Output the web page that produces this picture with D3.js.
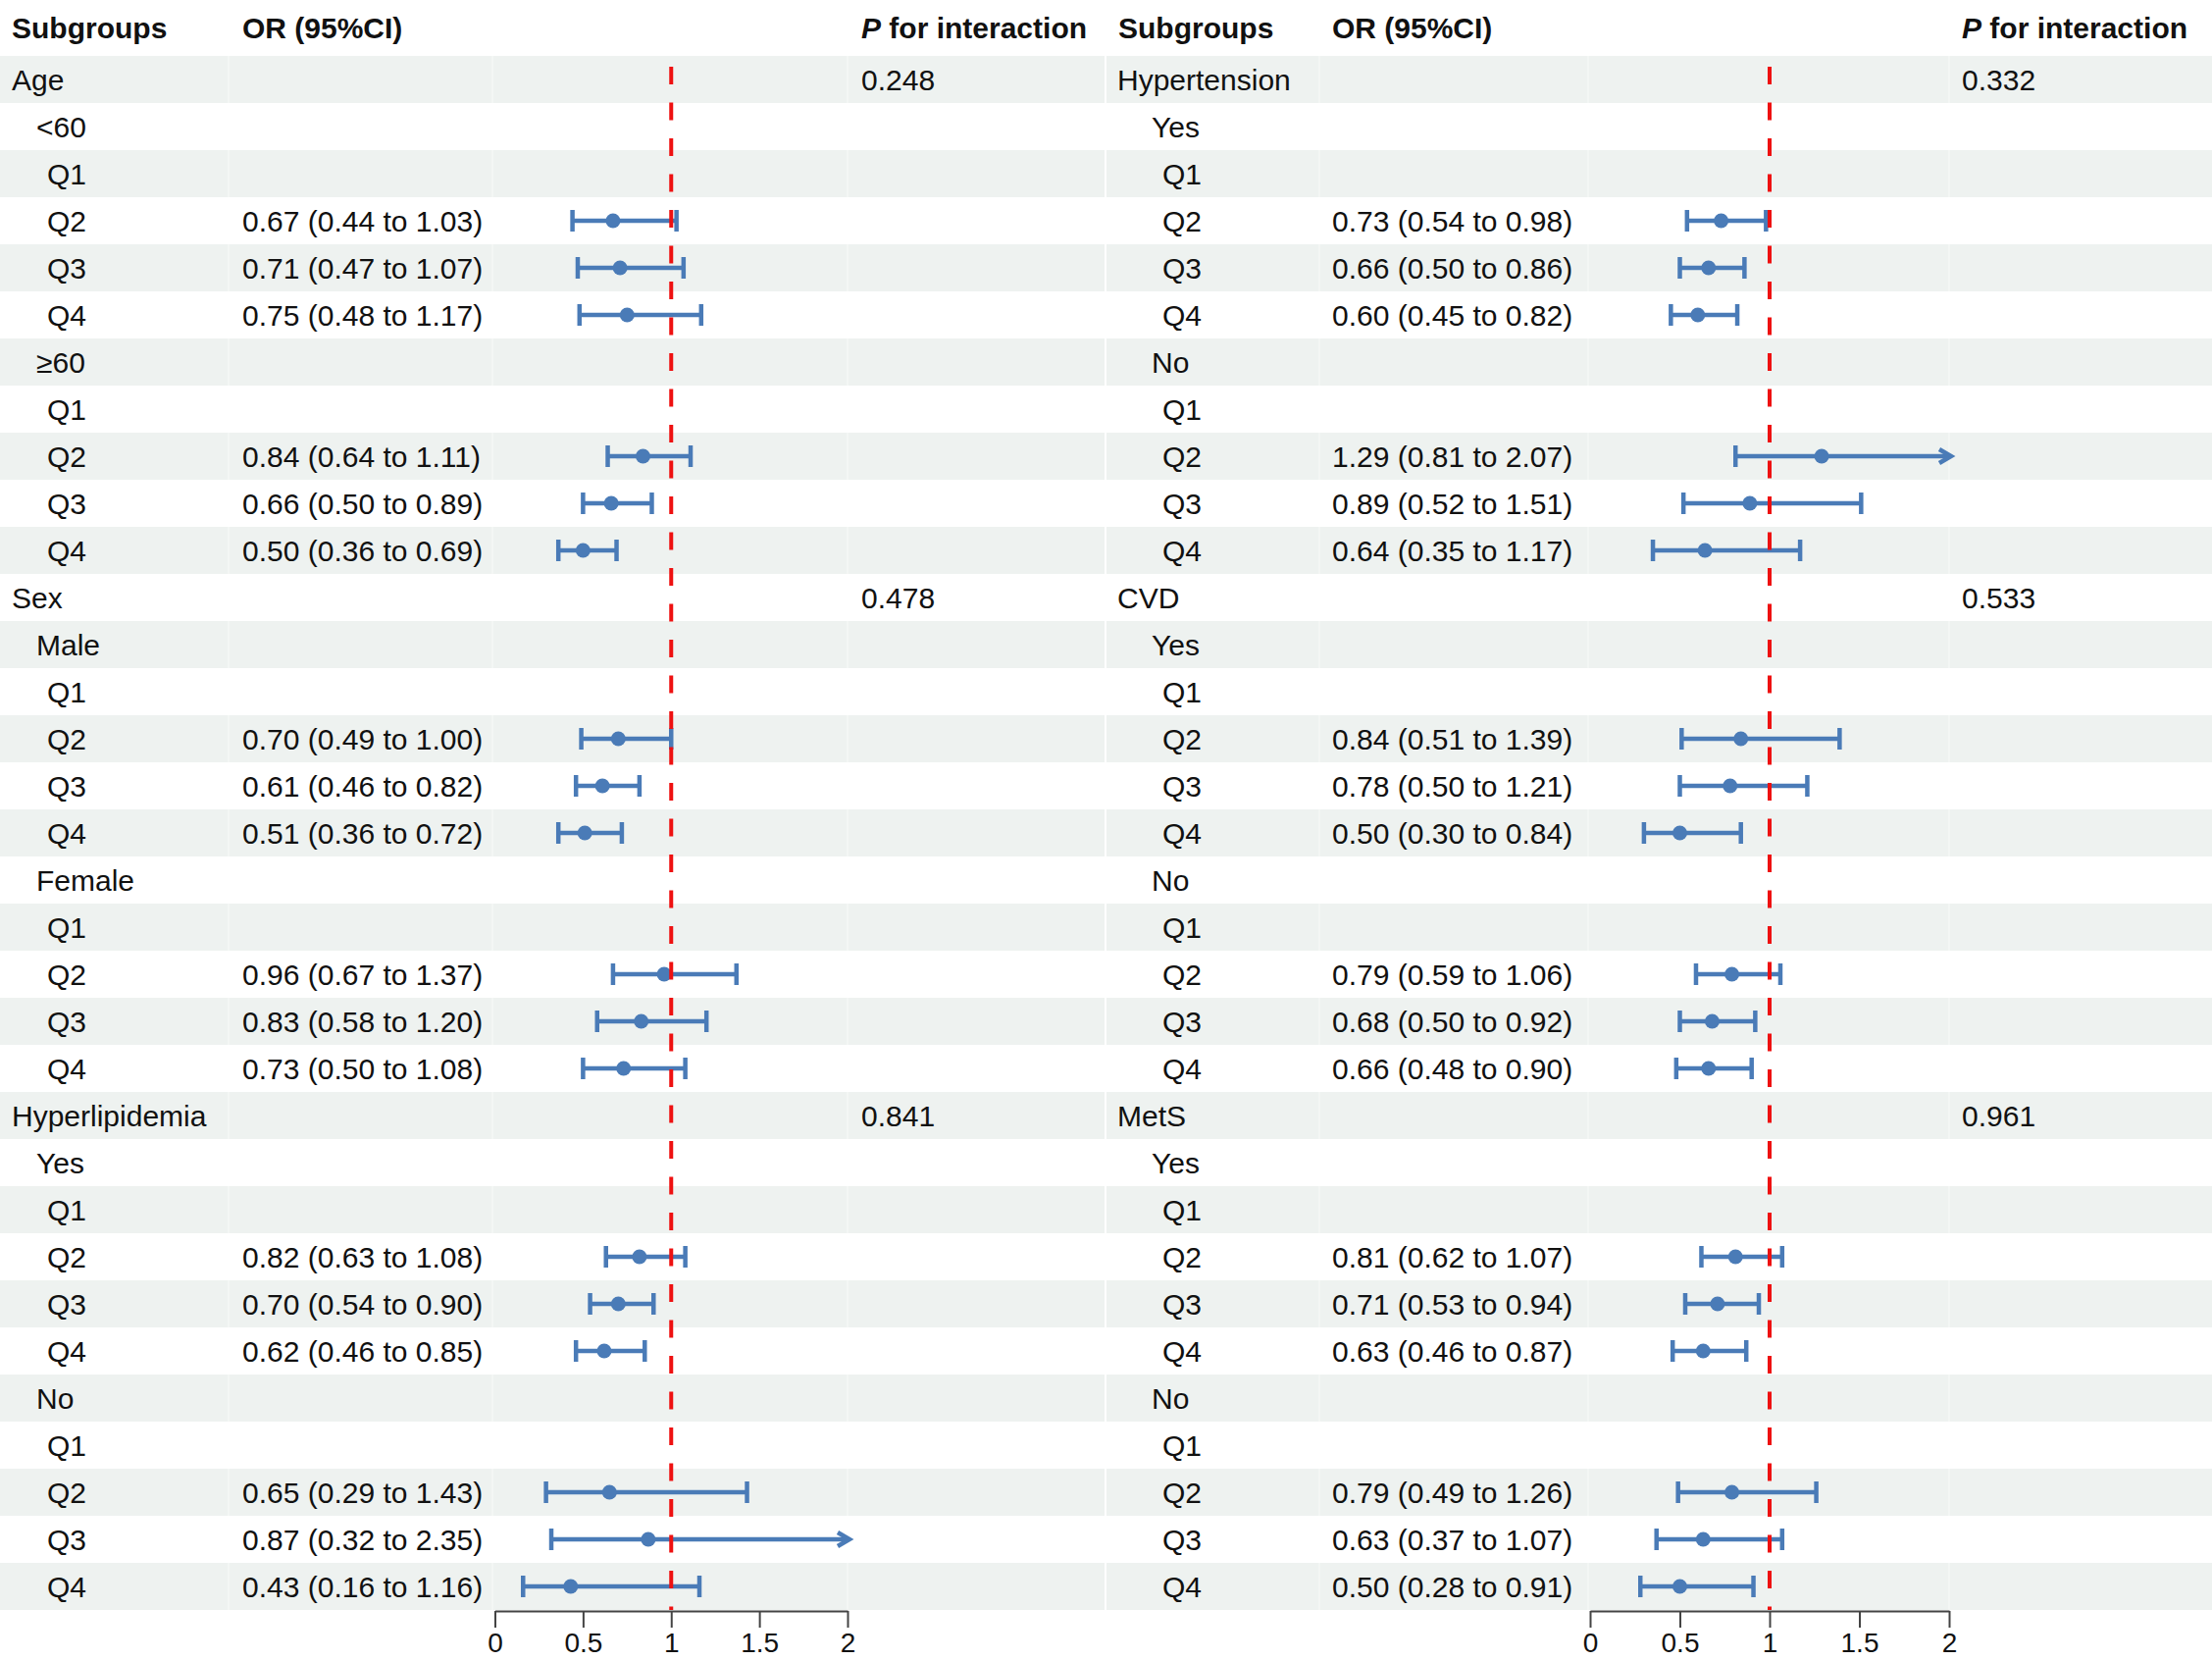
<!DOCTYPE html>
<html>
<head>
<meta charset="utf-8">
<script src="https://cdn.jsdelivr.net/npm/d3@7"></script>
<style>
  body { margin: 0; background: #fff; }
  text { font-family: "Liberation Sans", Arial, sans-serif; fill: #111; }
</style>
</head>
<body>
<div id="forest"></div>
<script>
var width = 2255, height = 1692;

// shared row labels
var quartiles = ["Q1", "Q2", "Q3", "Q4"];
var axisTicks = [0, 0.5, 1, 1.5, 2];

// left table
var leftGroups = ["Age", "Sex", "Hyperlipidemia"];
var leftPInt = ["0.248", "0.478", "0.841"];
var leftLevels = [["<60", "≥60"], ["Male", "Female"], ["Yes", "No"]];
var leftOR   = [0.67, 0.71, 0.75, 0.84, 0.66, 0.50, 0.70, 0.61, 0.51, 0.96, 0.83, 0.73, 0.82, 0.70, 0.62, 0.65, 0.87, 0.43];
var leftLow  = [0.44, 0.47, 0.48, 0.64, 0.50, 0.36, 0.49, 0.46, 0.36, 0.67, 0.58, 0.50, 0.63, 0.54, 0.46, 0.29, 0.32, 0.16];
var leftHigh = [1.03, 1.07, 1.17, 1.11, 0.89, 0.69, 1.00, 0.82, 0.72, 1.37, 1.20, 1.08, 1.08, 0.90, 0.85, 1.43, 2.35, 1.16];

// right table
var rightGroups = ["Hypertension", "CVD", "MetS"];
var rightPInt = ["0.332", "0.533", "0.961"];
var rightLevels = [["Yes", "No"], ["Yes", "No"], ["Yes", "No"]];
var rightOR   = [0.73, 0.66, 0.60, 1.29, 0.89, 0.64, 0.84, 0.78, 0.50, 0.79, 0.68, 0.66, 0.81, 0.71, 0.63, 0.79, 0.63, 0.50];
var rightLow  = [0.54, 0.50, 0.45, 0.81, 0.52, 0.35, 0.51, 0.50, 0.30, 0.59, 0.50, 0.48, 0.62, 0.53, 0.46, 0.49, 0.37, 0.28];
var rightHigh = [0.98, 0.86, 0.82, 2.07, 1.51, 1.17, 1.39, 1.21, 0.84, 1.06, 0.92, 0.90, 1.07, 0.94, 0.87, 1.26, 1.07, 0.91];

var bandFill = "#eef2f0";
var ciColor = "#4a7bb7";
var fmt = d3.format(".2f");

var svg = d3.select("#forest")
    .append("svg")
    .attr("width", width)
    .attr("height", height);

function buildRows(groups, pvals, levels, or, lo, hi) {
    var rows = [], k = 0;
    groups.forEach(function (g, gi) {
        rows.push({ label: g, level: 0, p: pvals[gi] });
        levels[gi].forEach(function (lv) {
            rows.push({ label: lv, level: 1 });
            quartiles.forEach(function (q, qi) {
                if (qi == 0) {
                    rows.push({ label: q, level: 2 });
                } else {
                    rows.push({ label: q, level: 2, or: or[k], lo: lo[k], hi: hi[k] });
                    k++;
                }
            });
        });
    });
    return rows;
}

function drawPanel(rows, cfg) {
    var g = svg.append("g");

    var y = d3.scaleBand()
        .domain(d3.range(rows.length))
        .range([57, 1641]);
    var x = d3.scaleLinear()
        .domain([0, 2])
        .range(cfg.range);

    // zebra bands
    g.selectAll(".band")
        .data(rows)
        .enter()
        .append("rect")
        .attr("x", cfg.cols[0])
        .attr("y", function (d, i) { return y(i); })
        .attr("width", cfg.cols[4] - cfg.cols[0])
        .attr("height", y.bandwidth())
        .attr("fill", function (d, i) { return i % 2 == 0 ? bandFill : "#fff"; });

    // faint white column gaps
    g.selectAll(".sep")
        .data(cfg.cols.slice(1, 4))
        .enter()
        .append("line")
        .attr("x1", function (d) { return d; })
        .attr("x2", function (d) { return d; })
        .attr("y1", 57)
        .attr("y2", 1641)
        .attr("stroke", "#fff")
        .attr("stroke-opacity", 0.6)
        .attr("stroke-width", 1);

    // header
    var head = g.append("g").style("font-weight", "bold").style("font-size", "30px");
    head.append("text").attr("x", cfg.cols[0] + 12).attr("y", 39).text("Subgroups");
    head.append("text").attr("x", cfg.orX).attr("y", 39).text("OR (95%CI)");
    var ph = head.append("text").attr("x", cfg.pX).attr("y", 39);
    ph.append("tspan").style("font-style", "italic").text("P");
    ph.append("tspan").text(" for interaction");

    // text columns
    var cell = g.selectAll(".row")
        .data(rows)
        .enter()
        .append("g")
        .attr("transform", function (d, i) { return "translate(0," + (y(i) + y.bandwidth() / 2) + ")"; })
        .style("font-size", "30px");

    cell.append("text")
        .attr("x", function (d) { return cfg.cols[0] + cfg.indent[d.level]; })
        .attr("dy", "0.35em")
        .text(function (d) { return d.label; });

    cell.filter(function (d) { return d.or != null; })
        .append("text")
        .attr("x", cfg.orX)
        .attr("dy", "0.35em")
        .text(function (d) { return fmt(d.or) + " (" + fmt(d.lo) + " to " + fmt(d.hi) + ")"; });

    cell.filter(function (d) { return d.p != null; })
        .append("text")
        .attr("x", cfg.pX)
        .attr("dy", "0.35em")
        .text(function (d) { return d.p; });

    // reference line at OR = 1
    g.append("line")
        .attr("x1", x(1))
        .attr("x2", x(1))
        .attr("y1", 57)
        .attr("y2", 1641)
        .attr("stroke", "#ee1111")
        .attr("stroke-width", 4)
        .attr("stroke-dasharray", "18,18.5")
        .attr("stroke-dashoffset", 25.5);

    // confidence intervals
    var ci = cell.filter(function (d) { return d.or != null; })
        .append("g")
        .attr("stroke", ciColor)
        .attr("fill", ciColor);

    ci.append("line")
        .attr("x1", function (d) { return x(d.lo); })
        .attr("x2", function (d) { return x(Math.min(d.hi, 2)); })
        .attr("stroke-width", 4.5);

    ci.append("line")
        .attr("x1", function (d) { return x(d.lo); })
        .attr("x2", function (d) { return x(d.lo); })
        .attr("y1", -11)
        .attr("y2", 11)
        .attr("stroke-width", 4.5);

    ci.filter(function (d) { return d.hi <= 2; })
        .append("line")
        .attr("x1", function (d) { return x(d.hi); })
        .attr("x2", function (d) { return x(d.hi); })
        .attr("y1", -11)
        .attr("y2", 11)
        .attr("stroke-width", 4.5);

    // arrow when the upper limit runs off the scale
    ci.filter(function (d) { return d.hi > 2; })
        .append("path")
        .attr("d", function () {
            var t = x(2) + 2;
            return "M" + (t - 12) + ",-7L" + t + ",0L" + (t - 12) + ",7";
        })
        .attr("fill", "none")
        .attr("stroke-width", 4.5)
        .attr("stroke-linejoin", "miter");

    ci.append("circle")
        .attr("cx", function (d) { return x(d.or); })
        .attr("r", 7.5)
        .attr("stroke", "none");

    // x axis
    var axis = g.append("g")
        .attr("transform", "translate(0,1642)")
        .call(d3.axisBottom(x)
            .tickValues(axisTicks)
            .tickFormat(d3.format("~g"))
            .tickSize(17)
            .tickSizeOuter(0)
            .tickPadding(5));
    axis.select(".domain").attr("stroke", "#444").attr("stroke-width", 2);
    axis.selectAll(".tick line").attr("stroke", "#444").attr("stroke-width", 2);
    axis.selectAll(".tick text")
        .style("font-size", "28px")
        .style("font-family", "'Liberation Sans', Arial, sans-serif")
        .attr("fill", "#111");
}

drawPanel(buildRows(leftGroups, leftPInt, leftLevels, leftOR, leftLow, leftHigh), {
    cols: [0, 233, 502, 864, 1126],
    indent: [12, 37, 48],
    orX: 247,
    pX: 878,
    range: [504.5, 864]
});

drawPanel(buildRows(rightGroups, rightPInt, rightLevels, rightOR, rightLow, rightHigh), {
    cols: [1128, 1345, 1619, 1987, 2255],
    indent: [11, 46, 57],
    orX: 1358,
    pX: 2000,
    range: [1621, 1987]
});
</script>
</body>
</html>
